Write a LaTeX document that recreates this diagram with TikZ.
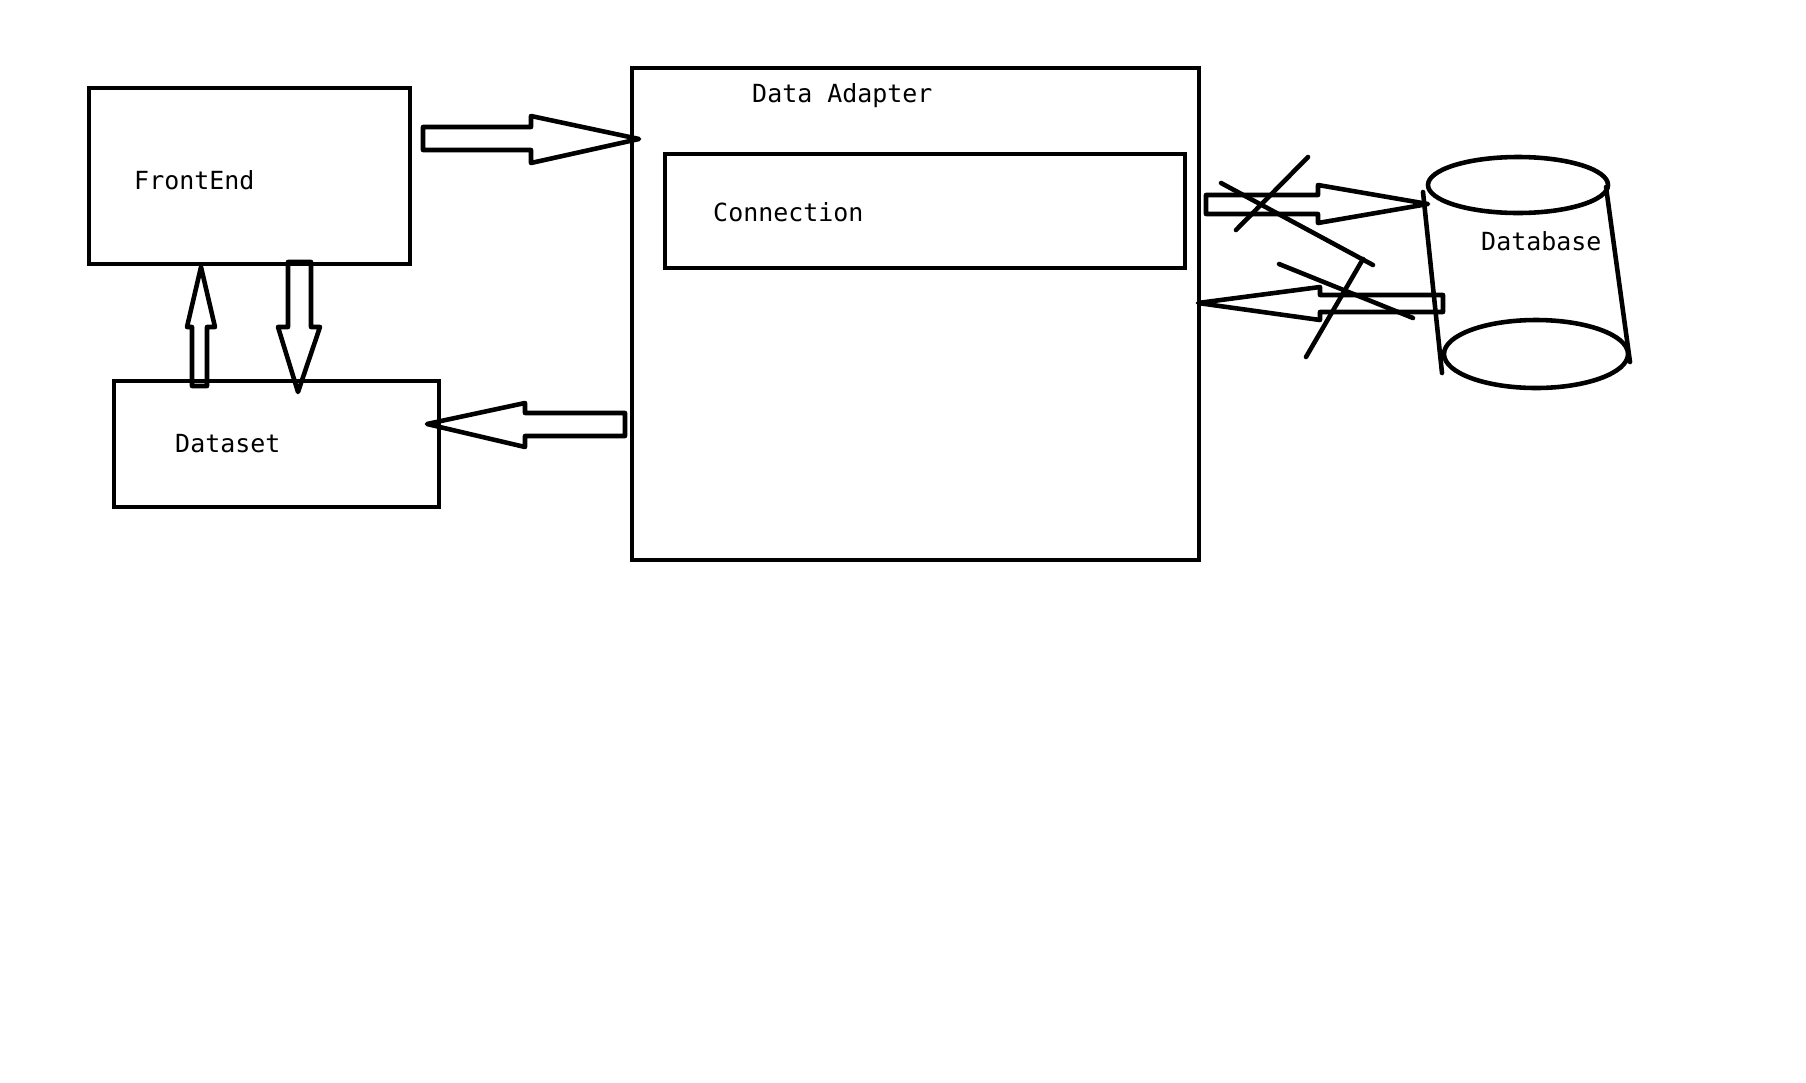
\documentclass[tikz,border=0pt]{standalone}
\usepackage{fontspec}
\newfontfamily\sketchfont{DejaVu Sans Mono}
\begin{document}
\begin{tikzpicture}[x=0.03cm,y=-0.03cm,
  box/.style={draw=black,line width=4.2pt},
  lbl/.style={anchor=base west,inner sep=0pt,font=\sketchfont\fontsize{21.3}{25}\selectfont},
  blockarrow/.style={draw=black,line width=3.9pt,line join=round},
  strike/.style={draw=black,line width=3.9pt,line cap=round}]
\useasboundingbox[fill=white] (0,0) rectangle (1806,1082);
% boxes
\draw[box] (89,88) rectangle (410,264);
\draw[box] (114,381) rectangle (439,507);
\draw[box] (632,68) rectangle (1199,560);
\draw[box] (665,154) rectangle (1185,268);
% database cylinder
\draw[strike] (1518,185) ellipse [x radius=90, y radius=28];
\draw[strike] (1536,354) ellipse [x radius=92, y radius=34];
\draw[strike] (1423,192) -- (1442,373);
\draw[strike] (1606,187) -- (1630,362);
% labels
\node[lbl] (tfe) at (134,189) {FrontEnd};
\node[lbl] (tds) at (175,452) {Dataset};
\node[lbl] (tda) at (752,102) {Data Adapter};
\node[lbl] (tcn) at (713,221) {Connection};
\node[lbl] (tdb) at (1481,250) {Database};
% block arrows
\draw[blockarrow] (423,127) -- (531,127) -- (531,116) -- (639,139) -- (531,163) -- (531,150) -- (423,150) -- cycle;
\draw[blockarrow] (625,413) -- (525,413) -- (525,403) -- (427,424) -- (525,447) -- (525,436) -- (625,436) -- cycle;
\draw[blockarrow] (192,386) -- (192,327) -- (187,327) -- (201,267) -- (215,327) -- (207,327) -- (207,386) -- cycle;
\draw[blockarrow] (288,262) -- (311,262) -- (311,327) -- (320,327) -- (298,392) -- (278,327) -- (288,327) -- cycle;
\draw[blockarrow] (1206,195) -- (1318,195) -- (1318,185) -- (1428,204) -- (1318,223) -- (1318,214) -- (1206,214) -- cycle;
\draw[blockarrow] (1443,295) -- (1320,295) -- (1320,287) -- (1198,303) -- (1320,320) -- (1320,312) -- (1443,312) -- cycle;
% strike-through lines
\draw[strike] (1221,183) -- (1373,265);
\draw[strike] (1236,230) -- (1308,157);
\draw[strike] (1279,264) -- (1413,318);
\draw[strike] (1306,357) -- (1363,259);
\end{tikzpicture}
\end{document}
